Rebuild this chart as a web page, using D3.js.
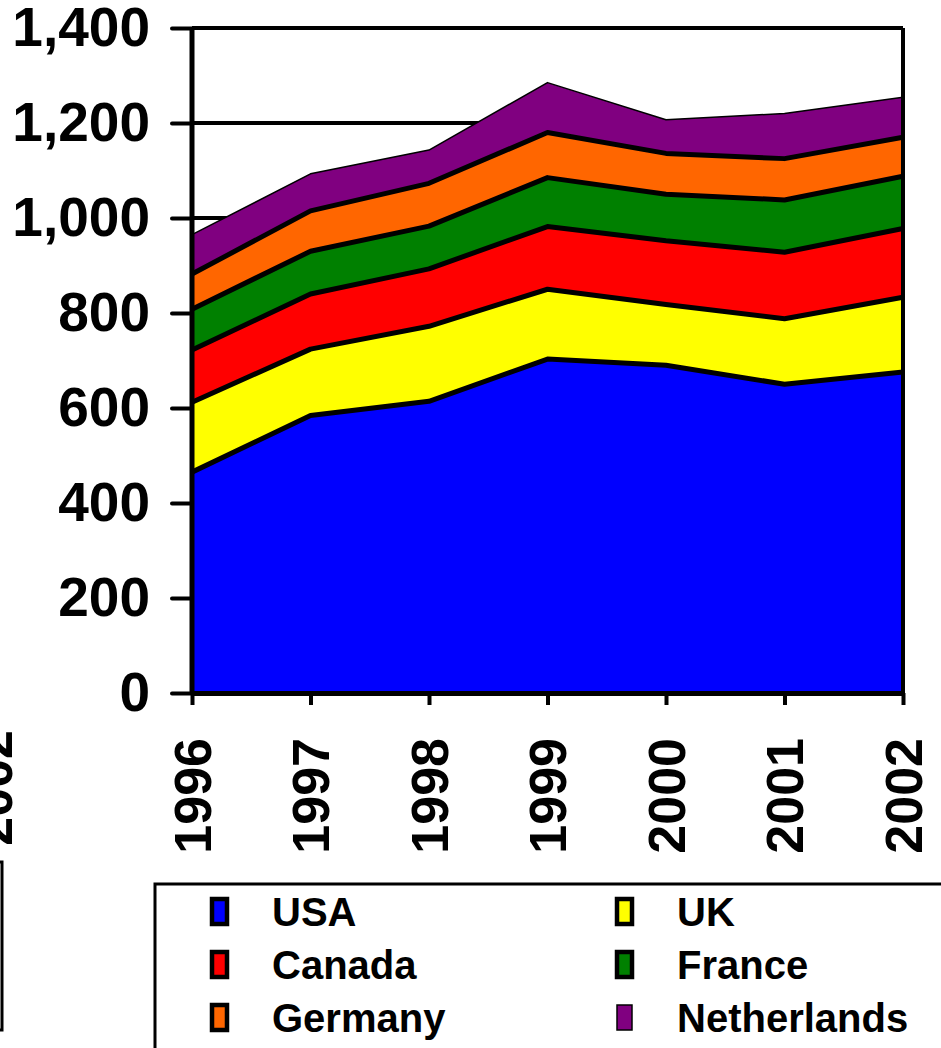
<!DOCTYPE html>
<html>
<head>
<meta charset="utf-8">
<script src="https://cdn.jsdelivr.net/npm/d3@7"></script>
<style>
  body { margin: 0; background: #fff; }
  svg { display: block; }
  text { font-family: "Liberation Sans", Arial, sans-serif; font-weight: bold; }
</style>
</head>
<body>
<div class="chart"></div>
<script>
// chart data
const years = ["1996", "1997", "1998", "1999", "2000", "2001", "2002"];
const usa = [465, 584, 614, 703, 690, 650, 676];
const uk = [147, 140, 158, 147, 128, 138, 157];
const canada = [110, 116, 121, 132, 134, 140, 145];
const france = [86, 90, 90, 103, 98, 110, 110];
const germany = [74, 85, 90, 95, 86, 87, 82];
const netherlands = [83, 78, 70, 105, 71, 95, 84];
const seriesNames = ["USA", "UK", "Canada", "France", "Germany", "Netherlands"];
const yTicks = [0, 200, 400, 600, 800, 1000, 1200, 1400];

const colors = {
    USA: "#0000ff", UK: "#ffff00", Canada: "#ff0000",
    France: "#008000", Germany: "#ff6600", Netherlands: "#800080"
};

const width = 941, height = 1048;
const margin = {top: 28, right: 38, bottom: 355, left: 192};

const svg = d3.select(".chart").append("svg")
    .attr("width", width)
    .attr("height", height);

// build rows for the stack
const cols = [usa, uk, canada, france, germany, netherlands];
const rows = years.map(function(y, i){
    let r = {year: y};
    seriesNames.forEach(function(k, j){ r[k] = cols[j][i]; });
    return r;
});
const stacked = d3.stack().keys(seriesNames)(rows);

const x = d3.scalePoint()
    .domain(years)
    .range([margin.left, width - margin.right]);

const y = d3.scaleLinear()
    .domain([0, 1400])
    .range([height - margin.bottom, margin.top]);

// horizontal grid lines (hidden behind the areas)
svg.append("g")
    .selectAll("line")
    .data(yTicks.slice(1))
    .enter().append("line")
    .attr("x1", x.range()[0])
    .attr("x2", x.range()[1])
    .attr("y1", d => y(d))
    .attr("y2", d => y(d))
    .attr("stroke", "#000")
    .attr("stroke-width", 4);

const area = d3.area()
    .x(d => x(d.data.year))
    .y0(d => y(d[0]))
    .y1(d => y(d[1]));

svg.append("g")
    .selectAll("path")
    .data(stacked)
    .enter().append("path")
    .attr("d", area)
    .attr("fill", d => colors[d.key]);

// top edge of every layer
const topLine = d3.line()
    .x(d => x(d.data.year))
    .y(d => y(d[1]));

svg.append("g")
    .selectAll("path")
    .data(stacked)
    .enter().append("path")
    .attr("d", topLine)
    .attr("fill", "none")
    .attr("stroke", "#000")
    .attr("stroke-linejoin", "round")
    .attr("stroke-width", d => d.key === "Netherlands" ? 1.5 : 5);

// right border of the plot
svg.append("line")
    .attr("x1", x.range()[1]).attr("x2", x.range()[1])
    .attr("y1", y(1400)).attr("y2", y(0))
    .attr("stroke", "#000")
    .attr("stroke-width", 4);

// y axis
const yAxis = svg.append("g")
    .attr("transform", "translate(" + margin.left + ",0)")
    .call(d3.axisLeft(y).tickValues(yTicks).tickSize(20).tickPadding(22).tickFormat(d3.format(",")));
yAxis.select(".domain").attr("stroke-width", 5).attr("d", "M0," + y(1400) + "V" + (y(0) + 2));
yAxis.selectAll(".tick line").attr("stroke-width", 4).attr("stroke-linecap", "round");
yAxis.selectAll(".tick text")
    .attr("font-size", 55)
    .attr("fill", "#000");

// x axis
const xAxis = svg.append("g")
    .attr("transform", "translate(0," + y(0) + ")")
    .call(d3.axisBottom(x).tickSize(12).tickSizeOuter(0));
xAxis.select(".domain").attr("stroke-width", 5);
xAxis.selectAll(".tick line").attr("stroke-width", 4);
xAxis.selectAll(".tick text")
    .attr("font-size", 52)
    .attr("fill", "#000")
    .attr("text-anchor", "end")
    .attr("transform", "rotate(-90)")
    .attr("x", -45)
    .attr("y", 0)
    .attr("dy", "0.35em");

// pieces of the neighbouring chart on the left edge
svg.append("text")
    .attr("transform", "translate(12,730) rotate(-90)")
    .attr("text-anchor", "end")
    .attr("font-size", 52)
    .text("2002");
svg.append("rect")
    .attr("x", -600).attr("y", 862)
    .attr("width", 602).attr("height", 168)
    .attr("fill", "none")
    .attr("stroke", "#000")
    .attr("stroke-width", 3);

// legend
const legend = svg.append("g");
legend.append("rect")
    .attr("x", 155).attr("y", 884)
    .attr("width", 900).attr("height", 300)
    .attr("fill", "#fff")
    .attr("stroke", "#000")
    .attr("stroke-width", 3);

const item = legend.selectAll(".item")
    .data(seriesNames)
    .enter().append("g")
    .attr("class", "item")
    .attr("transform", (d, i) => "translate(" + (i % 2 ? 617 : 212) + "," + (912 + Math.floor(i / 2) * 53) + ")");

item.append("rect")
    .attr("x", 0).attr("y", -13)
    .attr("width", 15).attr("height", 25)
    .attr("fill", d => colors[d])
    .attr("stroke", "#000")
    .attr("stroke-width", d => d === "Netherlands" ? 1.5 : 4.5);

item.append("text")
    .attr("x", 60)
    .attr("y", 0)
    .attr("dy", "0.36em")
    .attr("font-size", 40)
    .text(d => d);
</script>
</body>
</html>
